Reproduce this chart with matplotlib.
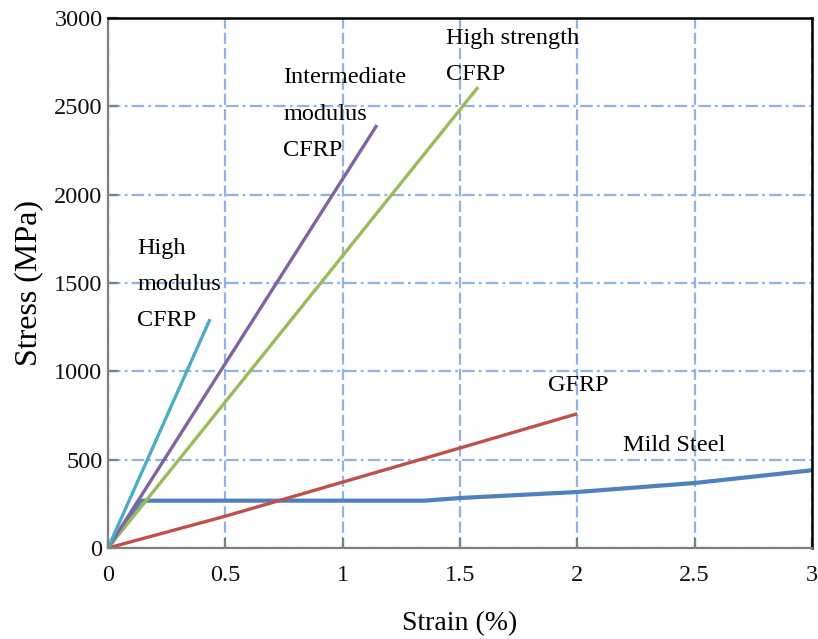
import matplotlib
matplotlib.use("Agg")
import matplotlib.pyplot as plt

# stress-strain curves (strain %, stress MPa)
hm_strain = [0, 0.435]
hm_stress = [0, 1296]
im_strain = [0, 1.146]
im_stress = [0, 2394]
hs_strain = [0, 1.577]
hs_stress = [0, 2609]
gfrp_strain = [0, 0.5, 1.0, 1.5, 2.0]
gfrp_stress = [0, 180, 373, 566, 760]
steel_strain = [0, 0.14, 1.35, 1.5, 2.0, 2.5, 3.0]
steel_stress = [0, 268, 268, 283, 317, 368, 440]

x_ticks = [0, 0.5, 1, 1.5, 2, 2.5, 3]
x_labels = ["0", "0.5", "1", "1.5", "2", "2.5", "3"]
y_ticks = [0, 500, 1000, 1500, 2000, 2500, 3000]

plt.rcParams['font.family'] = ['Liberation Serif', 'DejaVu Serif']
plt.rcParams['lines.scale_dashes'] = False

fig = plt.figure(figsize=(8.18, 6.39), dpi=100)
ax = fig.add_axes([108 / 818, 91 / 639, 704 / 818, 530 / 639])

grid_col = '#8db4e2'
ax.set_axisbelow(True)
ax.xaxis.grid(True, color=grid_col, linewidth=1.6, linestyle=(0, (8, 3)))
ax.yaxis.grid(True, color=grid_col, linewidth=1.6, linestyle=(0, (9, 3, 2, 3)))

ax.plot(steel_strain, steel_stress, color='#4f81bd', lw=3.0, solid_capstyle='butt')
ax.plot(gfrp_strain, gfrp_stress, color='#c0504d', lw=2.4, solid_capstyle='butt')
ax.plot(hs_strain, hs_stress, color='#9bbb59', lw=2.4, solid_capstyle='butt')
ax.plot(im_strain, im_stress, color='#8064a2', lw=2.4, solid_capstyle='butt')
ax.plot(hm_strain, hm_stress, color='#4bacc6', lw=2.4, solid_capstyle='butt')

ax.set_xlim(0, 3)
ax.set_ylim(0, 3000)
ax.set_xticks(x_ticks)
ax.set_xticklabels(x_labels)
ax.set_yticks(y_ticks)

for s in ['left', 'bottom']:
    ax.spines[s].set_color('#808080')
    ax.spines[s].set_linewidth(1.6)
for s in ['top', 'right']:
    ax.spines[s].set_color('black')
    ax.spines[s].set_linewidth(1.8)

ax.tick_params(direction='in', length=7, width=1.6, color='#808080',
               labelsize=17.5, labelcolor='#111111')
ax.tick_params(axis='x', pad=12)
ax.tick_params(axis='y', pad=4)

ax.set_xlabel("Strain (%)", fontsize=20, labelpad=18)
ax.set_ylabel("Stress (MPa)", fontsize=23, labelpad=8)

kw = dict(fontsize=17.5, linespacing=1.95, ha='left', va='top')
ax.text(1.44, 2946, "High strength\nCFRP", **kw)
ax.text(0.746, 2720, "Intermediate\nmodulus\nCFRP", **kw)
ax.text(0.124, 1757, "High\nmodulus\nCFRP", **kw)
ax.text(1.875, 982, "GFRP", **kw)
ax.text(2.195, 642, "Mild Steel", **kw)

fig.savefig("out.png", dpi=100)
